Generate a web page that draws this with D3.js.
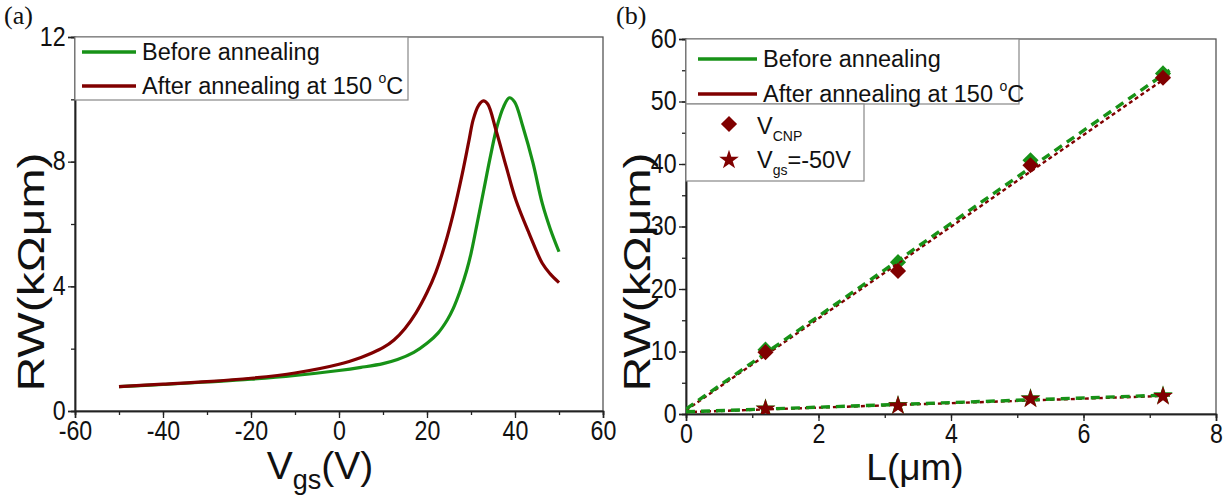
<!DOCTYPE html>
<html>
<head>
<meta charset="utf-8">
<script src="https://cdn.jsdelivr.net/npm/d3@7"></script>
<style>
  html, body { margin: 0; padding: 0; background: #fff; }
  svg { display: block; font-family: "Liberation Sans", Arial, sans-serif; }
</style>
</head>
<body>
<svg id="fig" width="1231" height="496"></svg>
<script>
// ---- Panel (a): RW vs Vgs transfer curves ----
const vgsBefore = [-50, -40, -30, -20, -10, 0, 5, 10, 13.3, 17, 20, 22.5, 24.6, 26, 27.6, 29, 30, 31.4, 32.9, 34.4, 35.9, 37.4, 38.7, 39.9, 41.8, 44.1, 46.2, 48, 50];
const rwBefore  = [0.78, 0.85, 0.93, 1.02, 1.14, 1.3, 1.4, 1.52, 1.65, 1.88, 2.17, 2.5, 2.92, 3.3, 3.88, 4.5, 5.05, 6.02, 7.09, 8.16, 9.12, 9.76, 10.05, 9.92, 9.12, 7.95, 6.66, 5.85, 5.11];
const vgsAfter  = [-50, -40, -30, -20, -10, 0, 5, 7.5, 10, 12.5, 15, 17.5, 20, 22, 24, 26, 28, 29.5, 30.5, 31.7, 32.8, 33.8, 35.7, 38, 40.2, 43.2, 46.2, 48, 50];
const rwAfter   = [0.78, 0.86, 0.94, 1.05, 1.22, 1.5, 1.72, 1.86, 2.03, 2.28, 2.65, 3.15, 3.8, 4.45, 5.3, 6.35, 7.6, 8.65, 9.35, 9.8, 9.95, 9.85, 9.0, 7.84, 6.77, 5.7, 4.74, 4.4, 4.12];

// ---- Panel (b): RW vs channel length ----
const lengths      = [1.2, 3.2, 5.2, 7.2];
const cnpBefore    = [10.3, 24.3, 40.6, 54.5];
const cnpAfter     = [9.9, 22.9, 39.8, 53.8];
const neg50Before  = [0.85, 1.4, 2.5, 2.95];
const neg50After   = [0.8, 1.33, 2.4, 2.83];
// linear fits (endpoints at L = 0 and L = 7.3)
const fitL         = [0, 7.3];
const fitCnpBefore = [0.8, 55.0];
const fitCnpAfter  = [0.6, 54.2];
const fitNegBefore = [0.35, 3.05];
const fitNegAfter  = [0.3, 2.92];

// ---- axis ticks ----
const ticksAX = [-60, -40, -20, 0, 20, 40, 60];
const ticksAY = [0, 4, 8, 12];
const ticksBX = [0, 2, 4, 6, 8];
const ticksBY = [0, 10, 20, 30, 40, 50, 60];

const legendLabels = ["Before annealing", "After annealing at 150 "];

const GREEN = "#179217";
const RED = "#800000";
const AXIS = "#222";
const TICK_FONT = 27;
const TICK_SX = 0.86; // tick numerals are set narrow

const svg = d3.select("#fig");

function panel(opt) {
  const g = svg.append("g");
  const x = d3.scaleLinear().domain(opt.xDomain).range([opt.left, opt.right]);
  const y = d3.scaleLinear().domain(opt.yDomain).range([opt.bottom, opt.top]);

  const clipId = "clip-" + opt.id;
  svg.append("clipPath").attr("id", clipId)
    .append("rect").attr("x", opt.left).attr("y", opt.top)
    .attr("width", opt.right - opt.left).attr("height", opt.bottom - opt.top);

  // frame (top and right without ticks)
  g.append("rect")
    .attr("x", opt.left).attr("y", opt.top)
    .attr("width", opt.right - opt.left).attr("height", opt.bottom - opt.top)
    .attr("fill", "none").attr("stroke", "#555").attr("stroke-width", 1.3);

  // bottom axis: minor ticks, then labelled major ticks
  const xMinor = d3.range(opt.xDomain[0], opt.xDomain[1] + 1e-9, opt.xMinorStep);
  const gx = g.append("g").attr("transform", `translate(0,${opt.bottom})`);
  const gxMinor = gx.append("g").call(d3.axisBottom(x).tickValues(xMinor).tickSize(4).tickFormat(""));
  gxMinor.selectAll("text").remove();
  const gxMajor = gx.append("g").call(d3.axisBottom(x).tickValues(opt.xTicks).tickSize(7).tickPadding(3)
      .tickFormat(d => (d < 0 ? "-" + Math.abs(d) : String(d))));
  gx.selectAll(".domain").attr("stroke", AXIS).attr("stroke-width", 1.5);
  gx.selectAll(".tick line").attr("stroke", AXIS).attr("stroke-width", 1.3);
  gxMajor.selectAll("text").attr("font-size", TICK_FONT).attr("fill", "#111")
    .attr("font-family", "Liberation Sans, Arial, sans-serif")
    .attr("transform", `scale(${TICK_SX},1)`);

  // left axis
  const yMinor = d3.range(opt.yDomain[0], opt.yDomain[1] + 1e-9, opt.yMinorStep);
  const gy = g.append("g").attr("transform", `translate(${opt.left},0)`);
  const gyMinor = gy.append("g").call(d3.axisLeft(y).tickValues(yMinor).tickSize(4).tickFormat(""));
  gyMinor.selectAll("text").remove();
  const gyMajor = gy.append("g").call(d3.axisLeft(y).tickValues(opt.yTicks).tickSize(7).tickPadding(4)
      .tickFormat(d3.format("d")));
  gy.selectAll(".domain").attr("stroke", AXIS).attr("stroke-width", 1.5);
  gy.selectAll(".tick line").attr("stroke", AXIS).attr("stroke-width", 1.3);
  gyMajor.selectAll("text").attr("font-size", TICK_FONT).attr("fill", "#111")
    .attr("font-family", "Liberation Sans, Arial, sans-serif")
    .attr("dy", "0.3em")
    .attr("transform", `scale(${TICK_SX},1)`);

  // y title: drawn in a narrow, elongated face
  svg.append("text")
    .attr("transform", `translate(${opt.yTitleX},272) rotate(-90) scale(1.3,1)`)
    .attr("text-anchor", "middle").attr("font-size", 37).attr("fill", "#111")
    .text("RW(kΩμm)");

  // panel tag
  svg.append("text").attr("x", opt.tagX).attr("y", 24)
    .attr("font-family", "Liberation Serif, Times New Roman, serif")
    .attr("font-size", 26).attr("fill", "#111").text(opt.tag);

  return { g, x, y, clipId };
}

// ===== Panel (a) =====
const A = panel({
  id: "a", tag: "(a)", tagX: 4,
  left: 75, right: 603, top: 37, bottom: 411,
  xDomain: [-60, 60], yDomain: [0, 12],
  xTicks: ticksAX, yTicks: ticksAY, xMinorStep: 10, yMinorStep: 2,
  yTitleX: 44
});

const lineA = d3.line().x(d => A.x(d[0])).y(d => A.y(d[1])).curve(d3.curveCatmullRom.alpha(0.5));
const plotA = A.g.append("g").attr("clip-path", `url(#${A.clipId})`);
plotA.append("path").datum(d3.zip(vgsBefore, rwBefore))
  .attr("d", lineA).attr("fill", "none").attr("stroke", GREEN).attr("stroke-width", 3.2)
  .attr("stroke-linejoin", "round");
plotA.append("path").datum(d3.zip(vgsAfter, rwAfter))
  .attr("d", lineA).attr("fill", "none").attr("stroke", RED).attr("stroke-width", 3.2)
  .attr("stroke-linejoin", "round");

// x title (a)
const tA = svg.append("text").attr("x", 320).attr("y", 479).attr("text-anchor", "middle")
  .attr("font-size", 39).attr("fill", "#111");
tA.append("tspan").text("V");
tA.append("tspan").attr("font-size", 27).attr("dy", 10).text("gs");
tA.append("tspan").attr("dy", -10).text("(V)");

function lineLegend(x0, y0, w, h, lx1, lx2, rows) {
  const lg = svg.append("g");
  lg.append("rect").attr("x", x0).attr("y", y0).attr("width", w).attr("height", h)
    .attr("fill", "#fff").attr("stroke", "#888").attr("stroke-width", 1.2);
  rows.forEach(r => {
    const cy = r.cy;
    lg.append("line").attr("x1", lx1).attr("x2", lx2).attr("y1", cy).attr("y2", cy)
      .attr("stroke", r.color).attr("stroke-width", 3.5);
    const t = lg.append("text").attr("x", lx2 + 6).attr("y", cy + 8)
      .attr("font-size", 23.5).attr("fill", "#111");
    t.append("tspan").text(r.label);
    if (r.sup) {
      t.append("tspan").attr("font-size", 14).attr("dy", -11).text("o");
      t.append("tspan").attr("dy", 11).text("C");
    }
  });
}

lineLegend(75, 37, 333, 63, 82, 136, [
  { cy: 52, color: GREEN, label: legendLabels[0] },
  { cy: 86, color: RED, label: legendLabels[1], sup: true }
]);

// ===== Panel (b) =====
const B = panel({
  id: "b", tag: "(b)", tagX: 616,
  left: 686, right: 1216, top: 39, bottom: 414,
  xDomain: [0, 8], yDomain: [0, 60],
  xTicks: ticksBX, yTicks: ticksBY, xMinorStep: 1, yMinorStep: 5,
  yTitleX: 650
});

const plotB = B.g.append("g").attr("clip-path", `url(#${B.clipId})`);
const lineB = d3.line().x(d => B.x(d[0])).y(d => B.y(d[1]));

function fitPair(before, after) {
  plotB.append("path").datum(d3.zip(fitL, after)).attr("d", lineB)
    .attr("fill", "none").attr("stroke", RED).attr("stroke-width", 2.4)
    .attr("stroke-dasharray", "4,3");
  plotB.append("path").datum(d3.zip(fitL, before)).attr("d", lineB)
    .attr("fill", "none").attr("stroke", GREEN).attr("stroke-width", 3.4)
    .attr("stroke-dasharray", "9,6");
}

const diamond = d3.symbol().type(d3.symbolSquare).size(130);
const star = d3.symbol().type(d3.symbolStar).size(120);

function markers(vals, color, sym, rot) {
  plotB.append("g").selectAll("path").data(d3.zip(lengths, vals)).join("path")
    .attr("d", sym)
    .attr("transform", d => `translate(${B.x(d[0])},${B.y(d[1])}) rotate(${rot})`)
    .attr("fill", color);
}

markers(cnpBefore, GREEN, diamond, 45);
markers(neg50Before, GREEN, star, 0);
fitPair(fitCnpBefore, fitCnpAfter);
fitPair(fitNegBefore, fitNegAfter);
markers(cnpAfter, RED, diamond, 45);
markers(neg50After, RED, star, 0);

// x title (b)
svg.append("text").attr("x", 915).attr("y", 480).attr("text-anchor", "middle")
  .attr("font-size", 37).attr("fill", "#111").text("L(μm)");

lineLegend(686, 39, 333, 65, 698, 757, [
  { cy: 59, color: GREEN, label: legendLabels[0] },
  { cy: 94, color: RED, label: legendLabels[1], sup: true }
]);

// marker legend
const ml = svg.append("g");
ml.append("rect").attr("x", 686).attr("y", 104).attr("width", 178).attr("height", 77)
  .attr("fill", "#fff").attr("stroke", "#888").attr("stroke-width", 1.2);
ml.append("path").attr("d", diamond).attr("transform", "translate(729,124) rotate(45)").attr("fill", RED);
ml.append("path").attr("d", star).attr("transform", "translate(729,160)").attr("fill", RED);
const t1 = ml.append("text").attr("x", 757).attr("y", 134).attr("font-size", 23.5).attr("fill", "#111");
t1.append("tspan").text("V");
t1.append("tspan").attr("font-size", 14).attr("dy", 7).text("CNP");
const t2 = ml.append("text").attr("x", 757).attr("y", 168).attr("font-size", 23.5).attr("fill", "#111");
t2.append("tspan").text("V");
t2.append("tspan").attr("font-size", 14).attr("dy", 7).text("gs");
t2.append("tspan").attr("dy", -7).text("=-50V");
</script>
</body>
</html>
